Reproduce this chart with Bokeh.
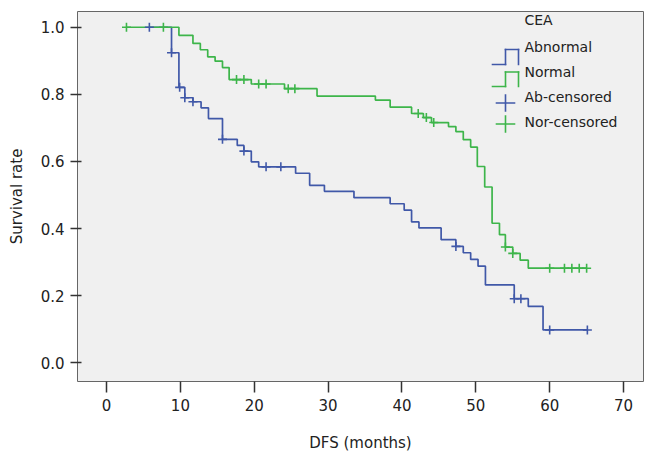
import numpy as np
from bokeh.plotting import figure
from bokeh.models import Range1d, FixedTicker, PrintfTickFormatter, Label, Arrow
from bokeh.embed import file_html
from bokeh.resources import INLINE

# ---------------- data ----------------
group_title = "CEA"
series_names = ["Abnormal", "Normal", "Ab-censored", "Nor-censored"]

# Abnormal CEA: event times (months) and survival after each drop
ab_times = [8.8, 9.8, 10.6, 11.7, 12.8, 13.8, 15.7, 17.7, 18.6, 19.6, 20.6,
            25.6, 27.5, 29.5, 33.5, 38.4, 40.3, 41.3, 42.3, 45.3, 47.3, 48.3,
            49.3, 50.3, 51.3, 55.2, 57.1, 59.1]
ab_surv = [0.924, 0.821, 0.790, 0.778, 0.760, 0.728, 0.666, 0.648, 0.631,
           0.599, 0.584, 0.565, 0.529, 0.511, 0.492, 0.474, 0.455, 0.420,
           0.402, 0.367, 0.347, 0.328, 0.308, 0.288, 0.232, 0.191, 0.168,
           0.098]
ab_censored = [5.8, 8.8, 9.9, 10.6, 11.7, 15.7, 18.6, 21.6, 23.6, 47.3,
               55.2, 56.1, 60.0, 65.1]

# Normal CEA
nor_times = [9.8, 11.7, 12.7, 13.7, 14.7, 15.7, 16.6, 19.6, 24.1, 28.5,
             36.4, 38.4, 41.3, 42.9, 44.0, 46.3, 47.3, 48.3, 49.3, 50.2,
             51.2, 52.2, 53.2, 54.0, 55.0, 56.0, 57.1]
nor_surv = [0.976, 0.952, 0.933, 0.912, 0.899, 0.880, 0.844, 0.831, 0.817,
            0.795, 0.783, 0.762, 0.743, 0.731, 0.716, 0.704, 0.689, 0.665,
            0.643, 0.585, 0.524, 0.416, 0.382, 0.345, 0.326, 0.306, 0.282]
nor_censored = [2.7, 7.7, 17.6, 18.6, 20.6, 21.6, 24.6, 25.5, 42.2, 43.3,
                44.3, 54.0, 55.0, 60.0, 62.0, 63.0, 64.0, 65.0]

x_ticks = [0, 10, 20, 30, 40, 50, 60, 70]
y_ticks = [0.0, 0.2, 0.4, 0.6, 0.8, 1.0]

BLUE = "#4058A8"
GREEN = "#3DB54A"
FONT = "DejaVu Sans"


def km_path(times, surv, cens):
    start = min(min(times), min(cens))
    end = max(max(times), max(cens))
    xs = [start] + list(times) + [end]
    ys = [1.0] + list(surv) + [surv[-1]]
    return xs, ys


def level_at(times, surv, pts):
    idx = np.searchsorted(np.array(times), np.array(pts), side="right")
    return [1.0 if i == 0 else surv[i - 1] for i in idx]


p = figure(width=646, height=454, output_backend="svg", toolbar_location=None,
           x_range=Range1d(-3.93, 72.7), y_range=Range1d(-0.0557, 1.047),
           min_border_left=77, min_border_right=3, min_border_top=11,
           min_border_bottom=67)

p.background_fill_color = "#F0F0F0"
p.border_fill_color = "white"
p.outline_line_color = "#666666"
p.outline_line_width = 1
p.xgrid.visible = False
p.ygrid.visible = False

# curves
ax, ay = km_path(ab_times, ab_surv, ab_censored)
nx, ny = km_path(nor_times, nor_surv, nor_censored)
p.step(ax, ay, mode="after", line_color=BLUE, line_width=1.7)
p.step(nx, ny, mode="after", line_color=GREEN, line_width=1.7)

p.scatter(ab_censored, level_at(ab_times, ab_surv, ab_censored), marker="cross",
          size=9, line_color=BLUE, line_width=1.6)
p.scatter(nor_censored, level_at(nor_times, nor_surv, nor_censored), marker="cross",
          size=9, line_color=GREEN, line_width=1.6)

# axes
xa = p.xaxis[0]
xa.ticker = FixedTicker(ticks=x_ticks)
xa.axis_line_color = None
xa.major_tick_out = 11
xa.major_tick_in = 0
xa.major_tick_line_color = "#333333"
xa.major_tick_line_width = 1.5
xa.minor_tick_line_color = None
xa.major_label_standoff = 6
xa.major_label_text_font = FONT
xa.major_label_text_font_size = "15px"
xa.major_label_text_color = "#222222"
xa.axis_label = "DFS (months)"
xa.axis_label_text_font = FONT
xa.axis_label_text_font_size = "15px"
xa.axis_label_text_font_style = "normal"
xa.axis_label_text_color = "#222222"
xa.axis_label_standoff = 20

ya = p.yaxis[0]
ya.ticker = FixedTicker(ticks=y_ticks)
ya.formatter = PrintfTickFormatter(format="%.1f")
ya.axis_line_color = None
ya.major_tick_out = 7
ya.major_tick_in = 4
ya.major_tick_line_color = "#333333"
ya.major_tick_line_width = 1.5
ya.minor_tick_line_color = None
ya.major_label_standoff = 6
ya.major_label_text_font = FONT
ya.major_label_text_font_size = "15px"
ya.major_label_text_color = "#222222"
ya.axis_label = "Survival rate"
ya.axis_label_text_font = FONT
ya.axis_label_text_font_size = "15px"
ya.axis_label_text_font_style = "normal"
ya.axis_label_text_color = "#222222"
ya.axis_label_standoff = 12

# legend (screen units, relative to the plot frame, y measured from bottom)
def seg(x0, y0, x1, y1, color):
    p.add_layout(Arrow(x_start=x0, y_start=y0, x_end=x1, y_end=y1,
                       start_units="screen", end_units="screen", end=None,
                       line_color=color, line_width=1.6, line_cap="square"))

def step_icon(ybot, ytop, color):
    seg(415, ybot, 428, ybot, color)
    seg(428, ybot, 428, ytop, color)
    seg(428, ytop, 441, ytop, color)
    seg(441, ytop, 441, ybot, color)

def plus_icon(yc, color):
    seg(419, yc, 437, yc, color)
    seg(428, yc - 8, 428, yc + 8, color)

step_icon(317, 332, BLUE)
step_icon(295, 309.5, GREEN)
plus_icon(278.5, BLUE)
plus_icon(257.5, GREEN)

label_pos = [(447, 361.7, group_title), (447, 335, series_names[0]),
             (447, 310, series_names[1]), (447, 284.5, series_names[2]),
             (447, 259.5, series_names[3])]
for lx, ly, txt in label_pos:
    p.add_layout(Label(x=lx, y=ly, x_units="screen", y_units="screen", text=txt,
                       text_font=FONT, text_font_size="14px", text_color="#222222",
                       text_baseline="middle", text_align="left"))

open("out.html", "w").write(file_html(p, INLINE))
